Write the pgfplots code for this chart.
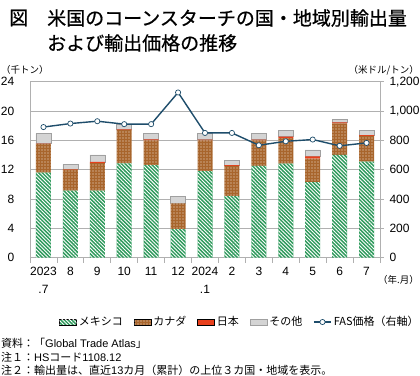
\documentclass[border=0pt]{standalone}
\usepackage{pgfplots}
\pgfplotsset{compat=1.18}
\usetikzlibrary{patterns.meta}
\usepackage{fontspec}
\setmainfont{Liberation Sans}
\newfontfamily\jp{Noto Sans CJK JP}
\newfontfamily\jpt[FakeBold=0.6]{Noto Sans CJK JP}
\definecolor{mexg}{HTML}{2E9A5C}
\definecolor{canb}{HTML}{A8652C}
\definecolor{jpr}{HTML}{E8401C}
\definecolor{oth}{HTML}{D4D4D4}
\definecolor{othd}{HTML}{A0A0A0}
\definecolor{fasl}{HTML}{1E4D6B}
\definecolor{gridc}{HTML}{B0B0B0}
\tikzset{
  mexstyle/.style={fill=mexg, draw=none, postaction={pattern={Lines[angle=-45,distance=2.6pt,line width=0.9pt]}, pattern color=white}},
  canstyle/.style={fill=canb, draw=none, postaction={pattern={Dots[distance=3pt,radius=0.6pt]}, pattern color=white!85!canb}},
}
\pgfplotstableread{
x mex can jap oth fas
0 11.6 3.9 0.05 1.35 890
1 9.15 2.85 0.05 0.65 914
2 9.15 3.75 0.15 0.95 930
3 12.85 4.55 0.08 0.72 910
4 12.6 3.4 0.12 0.78 910
5 3.9 3.5 0.0 0.9 1126
6 11.8 4.2 0.08 0.82 850
7 8.4 4.1 0.1 0.7 850
8 12.5 3.5 0.1 0.8 766
9 12.8 3.5 0.2 0.9 793
10 10.3 3.2 0.3 0.9 805
11 14.0 4.3 0.15 0.45 762
12 13.1 3.5 0.1 0.6 782
}\data
\begin{document}
\begin{tikzpicture}
\useasboundingbox (0pt,0pt) rectangle (420pt,-375pt);
% titles
\node[anchor=west,inner sep=0pt] at (9pt,-18pt) {\jpt\fontsize{19}{20}\selectfont 図};
\node[anchor=west,inner sep=0pt] at (47pt,-18pt) {\jpt\fontsize{19}{20}\selectfont 米国のコーンスターチの国・地域別輸出量};
\node[anchor=west,inner sep=0pt] at (47pt,-43pt) {\jpt\fontsize{19}{20}\selectfont および輸出価格の推移};
\node[anchor=west,inner sep=0pt] at (1pt,-70pt) {\jp\fontsize{9.5}{10}\selectfont （千トン）};
\node[anchor=east,inner sep=0pt] at (419pt,-70pt) {\jp\fontsize{9.5}{10}\selectfont （米ドル/トン）};
\node[anchor=east,inner sep=0pt] at (419pt,-280pt) {\jp\fontsize{9.5}{10}\selectfont （年.月）};
\begin{axis}[
  at={(30pt,-257.6pt)}, anchor=south west,
  scale only axis, width=350pt, height=176pt,
  xmin=-0.5, xmax=12.5, ymin=0, ymax=24,
  ytick={0,4,...,24},
  ymajorgrids, grid style={gridc, line width=0.6pt},
  axis y line*=left, axis x line*=bottom,
  axis line style={gridc, line width=0.8pt},
  ytick style={draw=none},
  xtick={0,...,12},
  xticklabels={{2023\\.7},8,9,10,11,12,{2024\\.1},2,3,4,5,6,7},
  xticklabel style={align=center, font=\fontsize{12}{18}\selectfont, anchor=north, yshift=-2pt},
  major x tick style={draw=none},
  minor xtick={-0.5,0.5,...,12.5},
  minor x tick style={gridc, line width=0.8pt},
  minor tick length=5pt,
  tick align=outside,
  yticklabel style={font=\fontsize{12}{14}\selectfont, xshift=-8pt},
  /pgf/number format/assume math mode=true,
  ybar stacked, bar width=15pt,
  clip=false,
]
\addplot[mexstyle] table[x=x,y=mex]{\data};
\addplot[canstyle] table[x=x,y=can]{\data};
\addplot[fill=jpr, draw=none] table[x=x,y=jap]{\data};
\addplot[fill=oth, draw=othd, line width=0.5pt] table[x=x,y=oth]{\data};
\end{axis}
\begin{axis}[
  at={(30pt,-257.6pt)}, anchor=south west,
  scale only axis, width=350pt, height=176pt,
  xmin=-0.5, xmax=12.5, ymin=0, ymax=1200,
  ytick={0,200,...,1200},
  axis y line*=right, axis x line=none,
  axis line style={gridc, line width=0.8pt},
  ytick style={gridc, line width=0.8pt},
  major tick length=4pt, tick align=outside,
  yticklabel style={font=\fontsize{12}{14}\selectfont, xshift=2pt},
  /pgf/number format/assume math mode=true,
  /pgf/number format/1000 sep={,},
  clip=false,
  legend columns=5,
  legend style={at={(0.6,-0.366)}, anchor=center, draw=none, fill=none,
    font=\jp\fontsize{11}{12}\selectfont,
    /tikz/every even column/.append style={column sep=9pt}},
]
\addlegendimage{area legend, mexstyle}
\addlegendentry{メキシコ}
\addlegendimage{area legend, canstyle}
\addlegendentry{カナダ}
\addlegendimage{area legend, fill=jpr, draw=none}
\addlegendentry{日本}
\addlegendimage{area legend, fill=oth, draw=othd}
\addlegendentry{その他}
\addplot[fasl, line width=1.4pt, mark=*, mark size=2.6pt, mark options={fill=white, draw=fasl, line width=0.7pt}] table[x=x,y=fas]{\data};
\addlegendentry{FAS価格（右軸）}
\end{axis}
\node[anchor=west,inner sep=0pt] at (1pt,-343pt) {\jp\fontsize{11}{12}\selectfont 資料：「{\rmfamily Global Trade Atlas}」};
\node[anchor=west,inner sep=0pt] at (1pt,-357pt) {\jp\fontsize{11}{12}\selectfont 注１：{\rmfamily HS}コード{\rmfamily 1108.12}};
\node[anchor=west,inner sep=0pt] at (1pt,-370pt) {\jp\fontsize{11}{12}\selectfont 注２：輸出量は、直近{\rmfamily 13}カ月（累計）の上位３カ国・地域を表示。};
\end{tikzpicture}
\end{document}
